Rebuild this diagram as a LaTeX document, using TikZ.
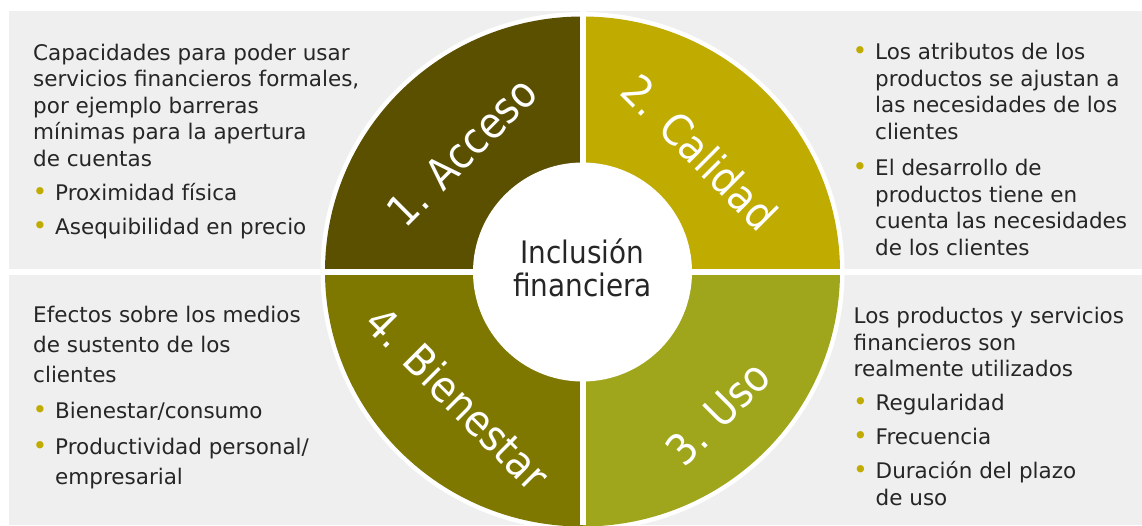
\documentclass[tikz,border=0pt]{standalone}
\usepackage{fontspec}
\setmainfont{DejaVu Sans}
\newfontfamily\narrowfont{DejaVu Sans}[FakeStretch=0.9]

\definecolor{acceso}{HTML}{5B4F00}
\definecolor{calidad}{HTML}{C0AB00}
\definecolor{uso}{HTML}{A0A61C}
\definecolor{bienestar}{HTML}{7F7800}
\definecolor{panel}{HTML}{EFEFEF}
\definecolor{ink}{HTML}{262626}

\newcommand\bul{\hangindent=22pt\hangafter=1%
  \makebox[22pt][l]{\hspace{-0.5pt}\textcolor{calidad}{\fontsize{25}{25}\selectfont •}}}

\begin{document}
\begin{tikzpicture}[
    x = 1pt, y = -1pt,
    blurb/.style = {anchor = base west, inner sep = 0pt, text width = #1,
      align = flush left, text = ink, font = \fontsize{21.5}{26.5}\selectfont},
    seglabel/.style = {text = white, inner sep = 0pt,
      font = \narrowfont\fontsize{43}{43}\selectfont}]

\useasboundingbox (0,0) rectangle (1142,525);
\fill[panel] (9,11) rectangle (1142,525);
\fill[white] (582.5,271.5) ellipse [x radius = 262, y radius = 259.5];
\begin{scope}
  \clip (582.5,271.5) ellipse [x radius = 257.5, y radius = 255];
  \fill[acceso] (582.5,271.5) rectangle (300,0);
  \fill[calidad] (582.5,271.5) rectangle (900,0);
  \fill[uso] (582.5,271.5) rectangle (900,540);
  \fill[bienestar] (582.5,271.5) rectangle (300,540);
\end{scope}
\draw[white, line width = 6] (582.5,0) -- (582.5,525)
      (0,272) -- (1142,272);
\fill[white] (582.5,272) circle [radius = 109.5];

\path (462,152) node[seglabel, rotate = 45] (acc) {1. Acceso}
      (700,152) node[seglabel, rotate = -45] (cal) {2. Calidad}
      (718,413) node[seglabel, rotate = 45] (uso) {3. Uso}
      (458,398) node[seglabel, rotate = -45] (bien) {4. Bienestar}
      (582.5,268) node[align = center, text = ink,
        font = \narrowfont\fontsize{31}{33}\selectfont] (incl) {Inclusión\\financiera};

\node[blurb = 400pt] (txtacc) at (33,60) {\setlength\parskip{7.5pt}%
  Capacidades para poder usar\newline servicios financieros formales,\newline
  por ejemplo barreras\newline mínimas para la apertura\newline de cuentas\par
  \bul Proximidad física\par
  \bul Asequibilidad en precio\par};
\node[blurb = 400pt] (txtcal) at (853,59.5) {\setlength\parskip{10pt}%
  \bul Los atributos de los\newline productos se ajustan a\newline
  las necesidades de los\newline clientes\par
  \bul El desarrollo de\newline productos tiene en\newline
  cuenta las necesidades\newline de los clientes\par};
\node[blurb = 400pt, font = \fontsize{21.5}{30}\selectfont] (txtbien) at (33,322.5)
  {\setlength\parskip{6pt}%
  Efectos sobre los medios\newline de sustento de los\newline clientes\par
  \bul Bienestar/consumo\par
  \bul Productividad personal/\newline empresarial\par};
\node[blurb = 400pt] (txtuso) at (853.5,323.5) {\setlength\parskip{7.5pt}%
  Los productos y servicios\newline financieros son\newline
  realmente utilizados\par
  \bul Regularidad\par
  \bul Frecuencia\par
  \bul Duración del plazo\newline de uso\par};
\end{tikzpicture}
\end{document}
